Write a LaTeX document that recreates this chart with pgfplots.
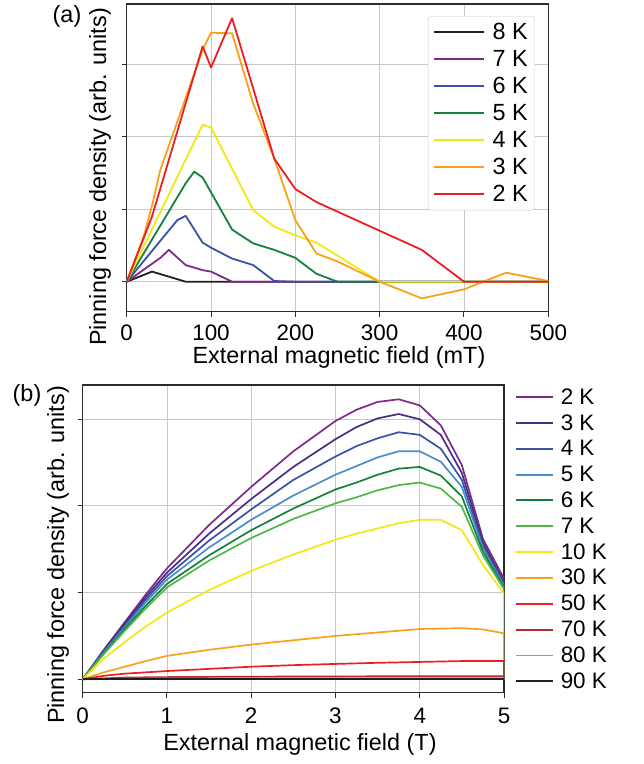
\documentclass[border=0pt]{standalone}
\usepackage{fontspec}
\setmainfont{Liberation Sans}
\usepackage{pgfplots}
\pgfplotsset{compat=1.18}

\definecolor{cBlack}{HTML}{231F20}
\definecolor{cPurple}{HTML}{7D2B8B}
\definecolor{cDPurple}{HTML}{4B2D83}
\definecolor{cBlue}{HTML}{3953A4}
\definecolor{cLBlue}{HTML}{4A8DCA}
\definecolor{cDGreen}{HTML}{16803D}
\definecolor{cLGreen}{HTML}{4DB848}
\definecolor{cYellow}{HTML}{F2E813}
\definecolor{cOrange}{HTML}{F8A21C}
\definecolor{cRed}{HTML}{EE1D24}
\definecolor{cDRed}{HTML}{B02A30}
\definecolor{cGray}{HTML}{9A9A9A}
\definecolor{cGrid}{HTML}{C8C8C8}
\definecolor{cAxis}{HTML}{2B2B2B}

\pgfplotsset{
  myaxis/.style={
    scale only axis,
    axis line style={cAxis, line width=1.1bp},
    grid=major,
    major grid style={cGrid, line width=0.9bp},
    tick align=outside,
    major tick length=5bp,
    tick style={cAxis, line width=1bp},
    xtick pos=left, ytick pos=left,
    ticklabel style={font=\fontsize{22.5}{22.5}\selectfont},
    xticklabel style={yshift=-5bp},
    /pgf/number format/assume math mode=true,
    every axis plot/.append style={line width=1.8bp, line join=round, no marks},
    enlargelimits=false,
  }
}

\begin{document}
\begin{tikzpicture}
\path[use as bounding box] (0bp,0bp) rectangle (644bp,-764bp);

% ---------------- panel (a)
\begin{axis}[myaxis,
  at={(126.7bp,-4bp)}, anchor=north west,
  width=421.6bp, height=307.7bp,
  xmin=0, xmax=500, ymin=-0.414, ymax=3.836,
  xtick={0,100,200,300,400,500},
  ytick={0,1,2,3}, yticklabels={},
  legend cell align=left,
  legend image code/.code={\draw[#1, line width=2bp] (0bp,0bp) -- (50bp,0bp);},
  legend style={at={(0.9684,0.961)}, anchor=north east,
    draw=cGrid!90, rounded corners=3bp,
    font=\fontsize{23.5}{23.5}\selectfont,
    inner xsep=5bp, inner ysep=5.3bp, row sep=5.2bp,
    /tikz/every odd column/.append style={column sep=5.5bp}},
]
\addplot[cBlack] coordinates {(0,0) (30,0.14) (50,0.07) (70,0) (100,0) (200,0) (300,0) (400,0) (500,0)};
\addlegendentry{8 K}
\addplot[cPurple] coordinates {(0,0) (40,0.33) (50,0.44) (70,0.23) (90,0.16) (100,0.14) (125,0) (200,0) (300,0) (400,0) (500,0)};
\addlegendentry{7 K}
\addplot[cBlue] coordinates {(0,0) (60,0.85) (70,0.91) (90,0.54) (100,0.47) (125,0.32) (150,0.23) (175,0.01) (200,0) (300,0) (400,0) (500,0)};
\addlegendentry{6 K}
\addplot[cDGreen] coordinates {(0,0) (70,1.36) (80,1.52) (90,1.44) (125,0.72) (150,0.53) (175,0.44) (200,0.33) (225,0.11) (250,0) (300,0) (400,0) (500,0)};
\addlegendentry{5 K}
\addplot[cYellow] coordinates {(0,0) (90,2.17) (100,2.13) (150,0.99) (175,0.76) (200,0.64) (225,0.54) (300,0) (400,0) (500,0)};
\addlegendentry{4 K}
\addplot[cOrange] coordinates {(0,0) (20,0.62) (30,1.05) (40,1.55) (90,3.20) (100,3.44) (125,3.43) (150,2.46) (175,1.70) (200,0.85) (225,0.39) (250,0.28) (300,0) (350,-0.23) (400,-0.105) (450,0.125) (500,0.01)};
\addlegendentry{3 K}
\addplot[cRed] coordinates {(0,0) (30,0.90) (90,3.25) (100,2.96) (125,3.64) (175,1.70) (200,1.28) (225,1.10) (350,0.44) (400,0) (450,0) (500,0)};
\addlegendentry{2 K}
\end{axis}

% ---------------- panel (b)
\begin{axis}[myaxis,
  at={(82.7bp,-385bp)}, anchor=north west,
  width=421.3bp, height=307.7bp,
  xmin=0, xmax=5, ymin=-0.155, ymax=3.395,
  xtick={0,1,2,3,4,5},
  ytick={0,1,2,3}, yticklabels={},
  xticklabel style={yshift=-2bp},
  every axis plot/.append style={line width=1.7bp},
  legend cell align=left,
  legend image code/.code={\draw[#1, line width=1.9bp] (0bp,0bp) -- (37bp,0bp);},
  legend style={at={(1.0261,0.9948)}, anchor=north west,
    draw=none, fill=none,
    font=\fontsize{22.5}{22.5}\selectfont,
    inner xsep=0bp, inner ysep=0bp, row sep=4.75bp,
    /tikz/every odd column/.append style={column sep=4.7bp}},
]
\addplot[cPurple] coordinates {(0,0) (0.25,0.34) (0.5,0.66) (0.75,0.98) (1,1.28) (1.5,1.78) (2,2.22) (2.5,2.63) (3,2.98) (3.25,3.11) (3.5,3.20) (3.75,3.23) (4,3.16) (4.25,2.93) (4.5,2.47) (4.75,1.62) (5,1.16) (5,0)};
\addlegendentry{2 K}
\addplot[cDPurple] coordinates {(0,0) (0.25,0.33) (0.5,0.64) (0.75,0.95) (1,1.23) (1.5,1.68) (2,2.08) (2.5,2.45) (3,2.77) (3.25,2.91) (3.5,3.01) (3.75,3.06) (4,3.00) (4.25,2.82) (4.5,2.38) (4.75,1.58) (5,1.12) (5,0)};
\addlegendentry{3 K}
\addplot[cBlue] coordinates {(0,0) (0.25,0.32) (0.5,0.62) (0.75,0.92) (1,1.19) (1.5,1.60) (2,1.96) (2.5,2.30) (3,2.57) (3.25,2.69) (3.5,2.78) (3.75,2.85) (4,2.82) (4.25,2.66) (4.5,2.30) (4.75,1.54) (5,1.10) (5,0)};
\addlegendentry{4 K}
\addplot[cLBlue] coordinates {(0,0) (0.25,0.31) (0.5,0.60) (0.75,0.89) (1,1.15) (1.5,1.52) (2,1.84) (2.5,2.12) (3,2.36) (3.25,2.46) (3.5,2.56) (3.75,2.63) (4,2.63) (4.25,2.51) (4.5,2.22) (4.75,1.51) (5,1.08) (5,0)};
\addlegendentry{5 K}
\addplot[cDGreen] coordinates {(0,0) (0.25,0.30) (0.5,0.58) (0.75,0.85) (1,1.10) (1.5,1.43) (2,1.72) (2.5,1.97) (3,2.19) (3.25,2.27) (3.5,2.36) (3.75,2.43) (4,2.45) (4.25,2.35) (4.5,2.11) (4.75,1.47) (5,1.06) (5,0)};
\addlegendentry{6 K}
\addplot[cLGreen] coordinates {(0,0) (0.25,0.29) (0.5,0.56) (0.75,0.82) (1,1.06) (1.5,1.37) (2,1.63) (2.5,1.85) (3,2.03) (3.25,2.10) (3.5,2.18) (3.75,2.24) (4,2.27) (4.25,2.20) (4.5,1.99) (4.75,1.43) (5,1.04) (5,0)};
\addlegendentry{7 K}
\addplot[cYellow] coordinates {(0,0) (0.25,0.24) (0.5,0.43) (0.75,0.61) (1,0.77) (1.5,1.03) (2,1.25) (2.5,1.44) (3,1.61) (3.25,1.68) (3.5,1.74) (3.75,1.80) (4,1.84) (4.25,1.84) (4.5,1.72) (4.75,1.32) (5,0.99) (5,0)};
\addlegendentry{10 K}
\addplot[cOrange] coordinates {(0,0) (0.25,0.08) (0.5,0.145) (0.75,0.21) (1,0.27) (1.5,0.34) (2,0.40) (2.5,0.45) (3,0.50) (3.5,0.54) (4,0.58) (4.5,0.59) (4.75,0.575) (5,0.53) (5,0)};
\addlegendentry{30 K}
\addplot[cRed] coordinates {(0,0) (0.25,0.04) (0.5,0.065) (1,0.095) (1.5,0.12) (2,0.145) (2.5,0.163) (3,0.177) (3.5,0.19) (4,0.20) (4.5,0.21) (5,0.21) (5,0)};
\addlegendentry{50 K}
\addplot[cDRed] coordinates {(0,0) (0.5,0.02) (1,0.025) (2,0.03) (3,0.033) (4,0.035) (5,0.035) (5,0)};
\addlegendentry{70 K}
\addplot[cGray] coordinates {(0,0) (1,0.01) (3,0.012) (5,0.012) (5,0)};
\addlegendentry{80 K}
\addplot[cBlack] coordinates {(0,0) (1,0) (3,0) (5,0)};
\addlegendentry{90 K}
\end{axis}

% ---------------- labels
\begingroup
\fontsize{23.5}{23.5}\selectfont
\node at (67bp,-16bp) {(a)};
\node at (27bp,-395bp) {(b)};
\node at (339bp,-357bp) {External magnetic field (mT)};
\node at (300bp,-744bp) {External magnetic field (T)};
\node[rotate=90] at (100bp,-177bp) {Pinning force density (arb. units)};
\node[rotate=90] at (58bp,-555bp) {Pinning force density (arb. units)};
\endgroup
\end{tikzpicture}
\end{document}
